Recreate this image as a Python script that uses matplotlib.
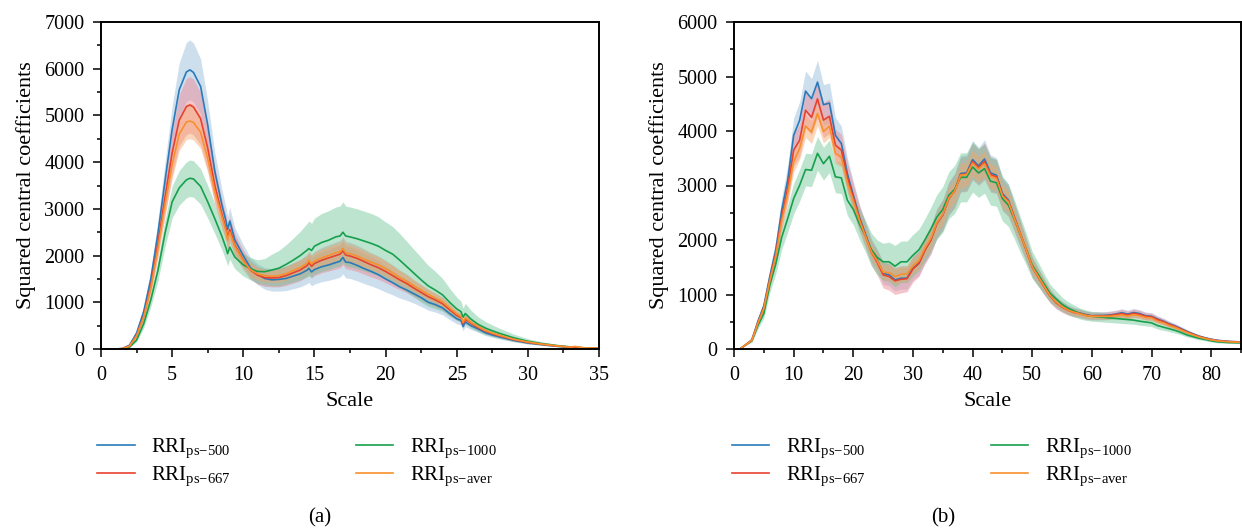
import numpy as np
import matplotlib
matplotlib.use('Agg')
import matplotlib.pyplot as plt
from matplotlib.ticker import MultipleLocator

plt.rcParams['font.family'] = ['Liberation Serif', 'DejaVu Serif']
plt.rcParams['mathtext.fontset'] = 'custom'
plt.rcParams['mathtext.rm'] = 'Liberation Serif'
plt.rcParams['mathtext.it'] = 'Liberation Serif:italic'
plt.rcParams['font.size'] = 14.5

# ---- panel (a) data ----
scale_a = [0, 1, 1.5, 2, 2.5, 3, 3.5, 4, 4.5, 5,
           5.5, 6, 6.25, 6.5, 7, 7.5, 8, 8.5, 8.8, 8.9,
           9.05, 9.4, 10, 10.5, 11, 11.5, 12, 12.5, 13, 13.5,
           14, 14.5, 14.6, 14.8, 15, 15.5, 16, 16.5, 16.8, 17,
           17.2, 17.5, 18, 18.5, 19, 19.5, 20, 20.5, 21, 21.5,
           22, 22.5, 23, 23.5, 24, 24.5, 25, 25.3, 25.45, 25.6,
           26, 26.5, 27, 27.5, 28, 29, 30, 31, 32, 33,
           33.3, 34, 35]

a_500 = [0, 0, 10, 80, 340, 800, 1500, 2470, 3600, 4700,
         5550, 5930, 5975, 5920, 5620, 4800, 3800, 3080, 2720, 2560,
         2740, 2340, 2000, 1740, 1600, 1510, 1480, 1490, 1510, 1560,
         1610, 1690, 1730, 1650, 1700, 1760, 1800, 1850, 1880, 1960,
         1860, 1850, 1790, 1720, 1660, 1590, 1500, 1420, 1330, 1260,
         1180, 1100, 1000, 950, 880, 760, 650, 610, 480, 580,
         500, 430, 350, 300, 260, 185, 130, 95, 60, 35,
         30, 20, 12]
a_667 = [0, 0, 8, 65, 290, 700, 1350, 2250, 3250, 4200,
         4900, 5190, 5225, 5180, 4930, 4300, 3500, 2880, 2560, 2380,
         2560, 2230, 1900, 1690, 1580, 1530, 1520, 1530, 1570, 1630,
         1690, 1790, 1850, 1770, 1830, 1900, 1950, 2000, 2030, 2100,
         2010, 1990, 1940, 1870, 1800, 1740, 1660, 1570, 1480, 1400,
         1300, 1210, 1120, 1050, 970, 840, 720, 670, 540, 640,
         550, 460, 385, 325, 280, 200, 140, 100, 65, 38,
         35, 21, 13]
a_1000 = [0, 0, 3, 40, 190, 540, 1050, 1680, 2480, 3150,
          3450, 3620, 3655, 3640, 3480, 3150, 2790, 2410, 2150, 2040,
          2180, 1970, 1800, 1720, 1660, 1655, 1690, 1730, 1810, 1900,
          2000, 2120, 2150, 2110, 2200, 2280, 2330, 2400, 2420, 2500,
          2420, 2400, 2360, 2310, 2260, 2200, 2110, 2030, 1900, 1760,
          1620, 1480, 1350, 1260, 1160, 1000, 860, 800, 680, 760,
          640, 530, 450, 390, 336, 240, 165, 115, 75, 45,
          40, 25, 15]
a_aver = [0, 0, 8, 60, 280, 680, 1300, 2150, 3100, 3950,
          4600, 4860, 4880, 4850, 4640, 4080, 3370, 2820, 2500, 2330,
          2500, 2200, 1880, 1700, 1610, 1570, 1560, 1570, 1610, 1680,
          1740, 1840, 1900, 1820, 1880, 1950, 2000, 2060, 2080, 2150,
          2060, 2040, 1990, 1920, 1860, 1800, 1720, 1630, 1530, 1450,
          1350, 1260, 1170, 1090, 1010, 880, 750, 700, 570, 670,
          570, 480, 400, 340, 295, 210, 150, 105, 68, 40,
          55, 22, 14]

# band half-widths
sd_a_500 = [0, 0, 2, 15, 50, 110, 190, 290, 400, 500,
            580, 630, 640, 630, 590, 500, 400, 330, 290, 280,
            290, 260, 230, 220, 220, 230, 240, 250, 260, 270,
            280, 290, 300, 300, 310, 320, 330, 340, 340, 350,
            340, 340, 330, 320, 310, 300, 280, 260, 240, 220,
            200, 190, 170, 160, 150, 130, 110, 100, 90, 100,
            85, 70, 60, 50, 45, 32, 22, 16, 10, 6,
            5, 4, 2]
sd_a_667 = [0, 0, 2, 14, 45, 100, 170, 270, 370, 470,
            550, 600, 605, 600, 560, 480, 380, 310, 270, 260,
            270, 240, 210, 200, 190, 190, 190, 200, 210, 220,
            230, 240, 250, 250, 260, 270, 280, 290, 290, 300,
            290, 290, 280, 270, 260, 250, 240, 230, 210, 200,
            180, 170, 160, 150, 140, 120, 100, 95, 80, 90,
            80, 65, 55, 45, 40, 30, 20, 15, 10, 6,
            5, 4, 2]
sd_a_1000 = [0, 0, 1, 8, 35, 90, 150, 220, 290, 340,
             370, 385, 390, 390, 380, 350, 320, 290, 270, 260,
             260, 250, 240, 240, 250, 280, 340, 380, 420, 470,
             520, 570, 590, 580, 600, 620, 630, 640, 640, 650,
             640, 640, 640, 640, 640, 630, 610, 590, 570, 540,
             510, 480, 440, 400, 350, 300, 250, 220, 200, 220,
             190, 160, 140, 125, 110, 80, 55, 40, 28, 18,
             15, 10, 6]
sd_a_aver = [0, 0, 1, 8, 30, 65, 110, 170, 240, 300,
             350, 375, 380, 375, 350, 300, 250, 210, 190, 180,
             190, 170, 150, 140, 130, 130, 130, 135, 140, 150,
             155, 160, 165, 165, 170, 175, 180, 185, 185, 190,
             185, 185, 180, 175, 170, 165, 155, 150, 140, 130,
             120, 115, 105, 100, 90, 80, 70, 65, 55, 60,
             55, 45, 38, 32, 28, 20, 14, 10, 7, 4,
             4, 3, 2]

# ---- panel (b) data, scales 1..85 ----
scale_b = list(range(1, 86))

b_500 = [0, 80, 170, 506, 793, 1330, 1817, 2549, 3098, 3921,
         4195, 4732, 4592, 4897, 4482, 4512, 3921, 3769, 3220, 2823,
         2427, 2122, 1817, 1634, 1390, 1360, 1268, 1299, 1299, 1482,
         1573, 1817, 2000, 2305, 2458, 2762, 2915, 3220, 3232, 3476,
         3360, 3488, 3232, 3189, 2854, 2732, 2427, 2122, 1817, 1512,
         1329, 1146, 976, 850, 780, 720, 680, 660, 630, 610,
         615, 615, 625, 640, 665, 640, 670, 650, 610, 600,
         550, 510, 460, 420, 370, 320, 275, 235, 205, 180,
         160, 150, 140, 135, 130]
b_667 = [0, 80, 165, 480, 760, 1280, 1750, 2420, 2950, 3650,
         3830, 4380, 4250, 4590, 4200, 4270, 3740, 3650, 3150, 2780,
         2400, 2090, 1780, 1590, 1360, 1330, 1250, 1280, 1290, 1470,
         1570, 1810, 2000, 2300, 2460, 2760, 2900, 3200, 3210, 3440,
         3330, 3440, 3200, 3160, 2830, 2710, 2410, 2110, 1810, 1500,
         1320, 1140, 970, 850, 770, 710, 670, 650, 620, 605,
         605, 605, 615, 630, 650, 625, 655, 635, 600, 590,
         540, 500, 450, 410, 360, 310, 268, 228, 198, 174,
         155, 145, 136, 131, 126]
b_1000 = [0, 80, 150, 430, 650, 1170, 1560, 2050, 2394, 2760,
          3003, 3293, 3280, 3590, 3400, 3537, 3159, 3140, 2732, 2560,
          2300, 2080, 1830, 1680, 1600, 1600, 1520, 1600, 1600, 1720,
          1820, 2000, 2200, 2420, 2560, 2820, 2930, 3150, 3150, 3340,
          3230, 3310, 3080, 3050, 2760, 2640, 2380, 2100, 1830, 1540,
          1370, 1190, 1020, 920, 820, 750, 700, 650, 620, 600,
          590, 580, 570, 560, 550, 540, 530, 510, 495, 480,
          430, 400, 370, 340, 300, 255, 225, 195, 175, 150,
          132, 125, 118, 115, 112]
b_aver = [0, 80, 160, 470, 740, 1250, 1700, 2350, 2850, 3440,
          3680, 4090, 3980, 4320, 3990, 4090, 3590, 3520, 3060, 2720,
          2370, 2080, 1790, 1620, 1410, 1400, 1330, 1370, 1380, 1530,
          1620, 1850, 2030, 2320, 2470, 2770, 2900, 3190, 3200, 3410,
          3300, 3400, 3170, 3130, 2810, 2700, 2400, 2110, 1820, 1510,
          1330, 1150, 980, 860, 780, 715, 675, 645, 615, 600,
          600, 597, 600, 610, 625, 605, 630, 610, 580, 570,
          510, 480, 430, 395, 345, 300, 258, 220, 192, 168,
          150, 140, 132, 128, 123]

sd_b_500 = [0, 10, 25, 60, 90, 140, 180, 230, 270, 320,
            340, 370, 370, 400, 370, 370, 330, 320, 290, 260,
            240, 220, 210, 200, 200, 200, 200, 200, 200, 210,
            220, 240, 250, 270, 280, 300, 310, 330, 330, 350,
            340, 350, 330, 320, 300, 290, 260, 240, 210, 180,
            160, 140, 120, 105, 95, 85, 80, 75, 70, 70,
            70, 70, 70, 72, 74, 72, 75, 72, 68, 66,
            60, 56, 50, 46, 40, 35, 30, 26, 22, 20,
            18, 16, 15, 15, 14]
sd_b_667 = [0, 10, 22, 55, 85, 130, 170, 210, 250, 290,
            300, 320, 320, 330, 320, 320, 290, 290, 270, 250,
            240, 230, 230, 230, 240, 250, 250, 250, 240, 240,
            240, 250, 260, 270, 280, 300, 310, 320, 320, 340,
            330, 340, 320, 310, 290, 280, 260, 240, 210, 185,
            165, 145, 125, 110, 98, 88, 82, 78, 74, 72,
            72, 72, 72, 72, 74, 72, 74, 72, 68, 66,
            60, 56, 50, 46, 40, 35, 30, 26, 22, 20,
            18, 16, 15, 15, 14]
sd_b_1000 = [0, 10, 22, 60, 90, 140, 180, 220, 250, 280,
             290, 300, 300, 310, 300, 300, 290, 290, 280, 280,
             280, 290, 300, 320, 340, 360, 380, 380, 380, 380,
             380, 390, 400, 410, 420, 430, 440, 450, 450, 460,
             450, 450, 440, 430, 410, 390, 360, 330, 290, 250,
             220, 190, 165, 145, 130, 118, 108, 100, 95, 90,
             88, 86, 84, 82, 80, 78, 76, 73, 70, 68,
             62, 58, 52, 48, 42, 36, 32, 28, 24, 21,
             19, 18, 17, 16, 15]
sd_b_aver = [0, 6, 14, 35, 55, 85, 110, 140, 160, 190,
             200, 210, 210, 220, 210, 210, 190, 180, 170, 160,
             150, 145, 140, 140, 140, 145, 145, 145, 145, 150,
             155, 165, 175, 185, 195, 210, 215, 225, 225, 240,
             235, 240, 230, 225, 210, 200, 185, 165, 145, 125,
             110, 95, 82, 72, 65, 58, 54, 50, 48, 47,
             47, 47, 47, 48, 49, 48, 50, 48, 45, 44,
             40, 37, 34, 31, 27, 24, 20, 18, 16, 14,
             12, 11, 10, 10, 10]

# braces around the minus keep mathtext from adding operator spacing
labels = [r'RRI$_{\mathrm{ps{-}500}}$', r'RRI$_{\mathrm{ps{-}667}}$',
          r'RRI$_{\mathrm{ps{-}1000}}$', r'RRI$_{\mathrm{ps{-}aver}}$']
line_colors = ['#2a7ab9', '#e8412f', '#16a04c', '#f7902e']
band_colors = ['#9dbedc', '#ec8c98', '#6cc595', '#f6a46a']
band_alpha = [0.5, 0.5, 0.45, 0.45]


def panel(ax, x, series, sds, xmax, ymax, xmaj, xmin):
    x = np.asarray(x, dtype=float)
    for y, sd, c, a in zip(series, sds, band_colors, band_alpha):
        y = np.asarray(y, dtype=float)
        sd = np.asarray(sd, dtype=float)
        ax.fill_between(x, y - sd, y + sd, color=c, alpha=a, lw=0)
    handles = {}
    for i in [0, 2, 1, 3]:
        h, = ax.plot(x, series[i], color=line_colors[i], lw=1.2, label=labels[i])
        handles[i] = h

    ax.set_xlim(0, xmax)
    ax.set_ylim(0, ymax)
    ax.xaxis.set_major_locator(MultipleLocator(xmaj))
    ax.xaxis.set_minor_locator(MultipleLocator(xmin))
    ax.yaxis.set_major_locator(MultipleLocator(1000))
    ax.yaxis.set_minor_locator(MultipleLocator(500))
    ax.tick_params(which='both', direction='out', top=False, right=False,
                   width=1.1, labelsize=14.5, pad=6)
    ax.tick_params(which='major', length=6)
    ax.tick_params(which='minor', length=3)
    for s in ax.spines.values():
        s.set_linewidth(1.4)
    ax.set_xlabel('Scale', fontsize=16, labelpad=5)
    ax.set_ylabel('Squared central coefficients', fontsize=16, labelpad=6)
    return [handles[i] for i in range(4)]


fig = plt.figure(figsize=(12.42, 5.31), dpi=100)
ax1 = fig.add_axes([101 / 1242, 1 - 349 / 531, 498 / 1242, 327 / 531])
ax2 = fig.add_axes([734 / 1242, 1 - 349 / 531, 507 / 1242, 327 / 531])

h1 = panel(ax1, scale_a, [a_500, a_667, a_1000, a_aver],
           [sd_a_500, sd_a_667, sd_a_1000, sd_a_aver], 35, 7000, 5, 2.5)
h2 = panel(ax2, scale_b, [b_500, b_667, b_1000, b_aver],
           [sd_b_500, sd_b_667, sd_b_1000, sd_b_aver], 85, 6000, 10, 5)

for h, x0 in [(h1, 97), (h2, 732)]:
    fig.legend(h, labels, ncol=2, loc='upper left',
               bbox_to_anchor=(x0 / 1242, 1 - 437 / 531),
               frameon=False, borderpad=0, borderaxespad=0, fontsize=15,
               handlelength=1.8, handletextpad=0.8, columnspacing=6.0,
               labelspacing=0.2)

fig.text(320 / 1242, 1 - 518 / 531, '(a)', ha='center', va='center', fontsize=15)
fig.text(943 / 1242, 1 - 518 / 531, '(b)', ha='center', va='center', fontsize=15)

fig.savefig('out.png', dpi=100)
